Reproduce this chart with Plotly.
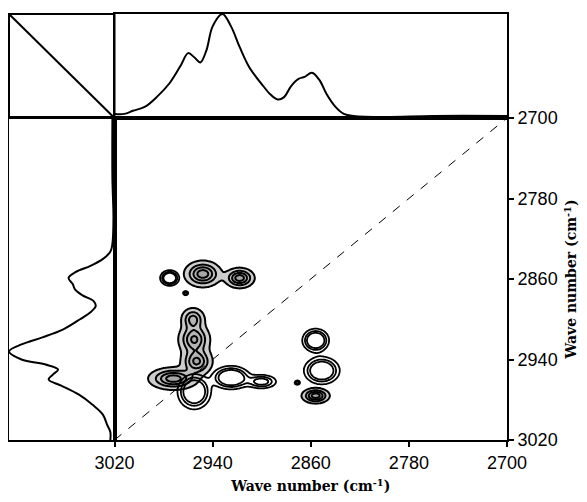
import numpy as np
import plotly.graph_objects as go

# ---- 1D spectrum shared by the top and left panels ----
wn = [3020, 3012, 3005, 2995, 2985, 2975, 2966, 2960, 2955, 2950, 2945, 2940,
      2932, 2925, 2918, 2910, 2900, 2893, 2887, 2882, 2876, 2870, 2865, 2859,
      2853, 2847, 2840, 2833, 2825, 2800, 2760, 2700]
absorb = [0.03, 0.03, 0.06, 0.10, 0.20, 0.33, 0.50, 0.62, 0.58, 0.53, 0.65, 0.88,
          1.00, 0.88, 0.68, 0.48, 0.32, 0.22, 0.17, 0.19, 0.30, 0.37, 0.39, 0.43,
          0.36, 0.22, 0.10, 0.03, 0.01, 0.00, 0.01, 0.01]

# ---- cross peaks of the 2D map (centre x, centre y, amplitude, width x, width y) ----
shaded_x = [2948, 2918, 2956, 2955, 2953, 2972, 2856]
shaded_y = [2855, 2859, 2900, 2920, 2942, 2959, 2976]
shaded_a = [1.0, 1.0, 0.7, 0.9, 0.9, 1.0, 1.0]
shaded_sx = [7.5, 6.0, 5.0, 6.5, 6.5, 10.0, 5.6]
shaded_sy = [6.5, 5.0, 6.0, 8.0, 7.0, 5.5, 3.8]

open_x = [2975, 2962, 2955, 2925, 2900, 2856, 2851, 2871]
open_y = [2859, 2874, 2972, 2958, 2962, 2921, 2951, 2963]
open_a = [1.0, 0.4, 1.0, 1.0, 0.6, 1.0, 1.0, 0.4]
open_sx = [4.0, 1.5, 7.0, 8.0, 7.0, 5.6, 7.5, 1.5]
open_sy = [4.0, 1.5, 9.0, 6.0, 4.0, 6.0, 7.0, 1.5]

ticks = [3020, 2940, 2860, 2780, 2700]
axis_title = "<b>Wave number (cm<sup>-1</sup>)</b>"

grid = np.arange(2700, 3020.5, 1.0)
GX, GY = np.meshgrid(grid, grid)


def field(cx, cy, a, sx, sy):
    z = np.zeros_like(GX)
    for x0, y0, amp, wx, wy in zip(cx, cy, a, sx, sy):
        z += amp * np.exp(-((GX - x0) ** 2) / (2 * wx ** 2) - ((GY - y0) ** 2) / (2 * wy ** 2))
    return z


z_shaded = field(shaded_x, shaded_y, shaded_a, shaded_sx, shaded_sy)
z_open = field(open_x, open_y, open_a, open_sx, open_sy)

fig = go.Figure()

# dashed diagonal
fig.add_trace(go.Scatter(x=[ticks[0], ticks[-1]], y=[ticks[0], ticks[-1]], mode="lines",
                         line=dict(color="black", width=1, dash="dash"),
                         xaxis="x", yaxis="y", showlegend=False, hoverinfo="skip"))

fig.add_trace(go.Contour(x=grid, y=grid, z=z_shaded, xaxis="x", yaxis="y",
                         zmin=0, zmax=1,
                         contours=dict(start=0.12, end=0.85, size=0.24, coloring="fill"),
                         colorscale=[[0, "rgba(255,255,255,0)"], [0.1, "rgba(255,255,255,0)"],
                                     [0.11, "#d4d4d4"], [1, "#a8a8a8"]],
                         line=dict(color="black", width=2), showscale=False, hoverinfo="skip"))

fig.add_trace(go.Contour(x=grid, y=grid, z=z_open, xaxis="x", yaxis="y",
                         contours=dict(start=0.15, end=0.5, size=0.15, coloring="lines"),
                         colorscale=[[0, "black"], [1, "black"]],
                         line=dict(width=1.8), showscale=False, hoverinfo="skip"))

# top spectrum
fig.add_trace(go.Scatter(x=wn, y=absorb, mode="lines", line=dict(color="black", width=2, shape="spline"),
                         xaxis="x2", yaxis="y2", showlegend=False, hoverinfo="skip"))
# left spectrum
fig.add_trace(go.Scatter(x=absorb, y=wn, mode="lines", line=dict(color="black", width=2, shape="spline"),
                         xaxis="x3", yaxis="y3", showlegend=False, hoverinfo="skip"))

XS = (114.5 - 9) / 498
YS = (440 - 118) / 426

frame = dict(showline=True, linewidth=2, linecolor="black", mirror=True,
             showgrid=False, zeroline=False, automargin=False)
tickfont = dict(family="Liberation Sans, Arial", size=18, color="black")
titlefont = dict(family="DejaVu Serif", size=14, color="black")

fig.update_layout(
    width=587, height=502,
    margin=dict(l=1, r=88, t=6, b=70),
    paper_bgcolor="white", plot_bgcolor="white",
    showlegend=False,
    xaxis=dict(domain=[XS, 1], range=[3020, 2700], anchor="y", tickvals=ticks,
               ticks="outside", ticklen=5, tickwidth=1.5, tickcolor="black",
               tickfont=tickfont, title=dict(text=axis_title, font=titlefont, standoff=10), **frame),
    yaxis=dict(domain=[0, YS], range=[3020, 2700], anchor="x", side="right", tickvals=ticks,
               ticks="outside", ticklen=5, tickwidth=1.5, tickcolor="black",
               tickfont=tickfont, title=dict(text=axis_title, font=titlefont, standoff=10), **frame),
    xaxis2=dict(domain=[XS, 1], range=[3020, 2700], anchor="y2", showticklabels=False, ticks="", **frame),
    yaxis2=dict(domain=[YS, 1], range=[-0.01, 1.0], anchor="x2", showticklabels=False, ticks="", **frame),
    xaxis3=dict(domain=[0, XS], range=[1.0, -0.01], anchor="y3", showticklabels=False, ticks="", **frame),
    yaxis3=dict(domain=[0, YS], range=[3020, 2700], anchor="x3", showticklabels=False, ticks="", **frame),
    shapes=[
        dict(type="rect", xref="paper", yref="paper", x0=0, x1=XS, y0=YS, y1=1,
             line=dict(color="black", width=2)),
        dict(type="line", xref="paper", yref="paper", x0=0, y0=1, x1=XS, y1=YS,
             line=dict(color="black", width=2)),
    ],
)

fig.write_html("out.html")
